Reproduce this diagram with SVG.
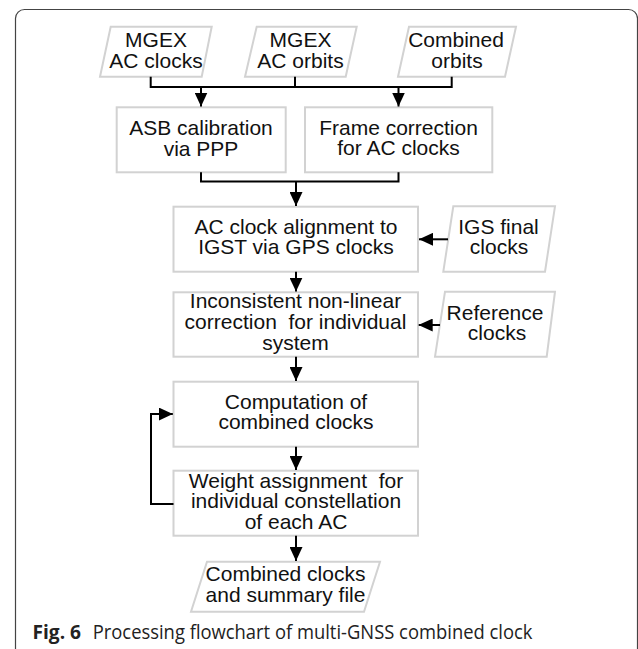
<svg xmlns="http://www.w3.org/2000/svg" width="638" height="649" viewBox="0 0 638 649">
<style>
.box{fill:#fff;stroke:#d2d2d2;stroke-width:2}
.t{font-family:"Liberation Sans",Arial,sans-serif;font-size:21px;fill:#111;text-anchor:middle}
.c{fill:none;stroke:#000;stroke-width:2}
.cap{font-family:"Open Sans","Noto Sans",sans-serif;font-size:20px;fill:#222}
</style>
<defs>
<marker id="ah" viewBox="0 0 14 13" refX="14" refY="6.5" markerWidth="14" markerHeight="13" markerUnits="userSpaceOnUse" orient="auto">
<path d="M0,0 L14,6.5 L0,13 Z" fill="#000"/>
</marker>
</defs>
<rect x="15.5" y="9.5" width="622" height="720" rx="9" fill="#fff" stroke="#444" stroke-width="1.2"/>

<g id="mgex-clocks"><polygon class="box" points="110.7,26.7 211.7,26.7 201.7,76.7 100,76.7"/>
<text class="t" x="156" y="46.7">MGEX</text><text class="t" x="156" y="67.7">AC clocks</text></g>
<g id="mgex-orbits"><polygon class="box" points="256.7,26.7 356.7,26.7 345.7,76.7 245,76.7"/>
<text class="t" x="300.5" y="46.7">MGEX</text><text class="t" x="300.5" y="67.7">AC orbits</text></g>
<g id="combined-orbits"><polygon class="box" points="409,26.7 516,26.7 505,76.7 398,76.7"/>
<text class="t" x="456" y="46.7">Combined</text><text class="t" x="457" y="67.7">orbits</text></g>

<g id="asb"><rect class="box" x="116.7" y="107.3" width="169" height="65"/>
<text class="t" x="201" y="135">ASB calibration</text><text class="t" x="201" y="155.5">via PPP</text></g>
<g id="frame"><rect class="box" x="305" y="107.3" width="187.3" height="65"/>
<text class="t" x="398.5" y="135">Frame correction</text><text class="t" x="398.5" y="155">for AC clocks</text></g>

<g id="align"><rect class="box" x="173.5" y="206.7" width="244.5" height="65"/>
<text class="t" x="296" y="234">AC clock alignment to</text><text class="t" x="296" y="254.3">IGST via GPS clocks</text></g>
<g id="igs"><polygon class="box" points="453.3,206.3 555,206.3 545,271.7 443.3,271.7"/>
<text class="t" x="498.5" y="234.3">IGS final</text><text class="t" x="499" y="254.3">clocks</text></g>

<g id="nonlinear"><rect class="box" x="173.5" y="292.3" width="244.5" height="64.4"/>
<text class="t" x="295.5" y="308.3">Inconsistent non-linear</text><text class="t" x="295.5" y="329" xml:space="preserve">correction  for individual</text><text class="t" x="295.5" y="349.5">system</text></g>
<g id="reference"><polygon class="box" points="445,291.7 555,291.7 546.7,356.7 435,356.7"/>
<text class="t" x="495" y="319.5">Reference</text><text class="t" x="497" y="340">clocks</text></g>

<g id="computation"><rect class="box" x="173.5" y="381.7" width="244.5" height="65"/>
<text class="t" x="296" y="408.5">Computation of</text><text class="t" x="296" y="429.3">combined clocks</text></g>
<g id="weight"><rect class="box" x="173.5" y="470.7" width="244.5" height="65"/>
<text class="t" x="296" y="487.5" xml:space="preserve">Weight assignment  for</text><text class="t" x="296" y="508.3">individual constellation</text><text class="t" x="296" y="528.5">of each AC</text></g>
<g id="output"><polygon class="box" points="207,561.7 380,561.7 364,611.7 191,611.7"/>
<text class="t" x="285.5" y="580.5">Combined clocks</text><text class="t" x="285.5" y="601.5">and summary file</text></g>

<g id="connectors">
<polyline class="c" points="150.7,76.7 150.7,87 451.7,87 451.7,76.7"/>
<line class="c" x1="295" y1="76.7" x2="295" y2="87"/>
<line class="c" x1="201" y1="87" x2="201" y2="106.5" marker-end="url(#ah)"/>
<line class="c" x1="398.5" y1="87" x2="398.5" y2="106.5" marker-end="url(#ah)"/>
<polyline class="c" points="201,172.3 201,181.5 398.5,181.5 398.5,172.3"/>
<line class="c" x1="296" y1="181.5" x2="296" y2="206" marker-end="url(#ah)"/>
<line class="c" x1="448" y1="239.3" x2="419" y2="239.3" marker-end="url(#ah)"/>
<line class="c" x1="296" y1="271.7" x2="296" y2="291.6" marker-end="url(#ah)"/>
<line class="c" x1="440" y1="325" x2="418.7" y2="325" marker-end="url(#ah)"/>
<line class="c" x1="296" y1="356.7" x2="296" y2="381" marker-end="url(#ah)"/>
<line class="c" x1="296" y1="446.7" x2="296" y2="470" marker-end="url(#ah)"/>
<polyline class="c" points="173.5,504 151,504 151,414 172.8,414" marker-end="url(#ah)"/>
<line class="c" x1="296" y1="535.7" x2="296" y2="561" marker-end="url(#ah)"/>
</g>

<text x="32.5" y="638.5" font-family="'Open Sans','Noto Sans',sans-serif" font-size="20" font-weight="bold" fill="#222" textLength="48.5" lengthAdjust="spacingAndGlyphs">Fig. 6</text>
<text class="cap" x="92.7" y="638.5" textLength="439.8" lengthAdjust="spacingAndGlyphs">Processing flowchart of multi-GNSS combined clock</text>
</svg>
